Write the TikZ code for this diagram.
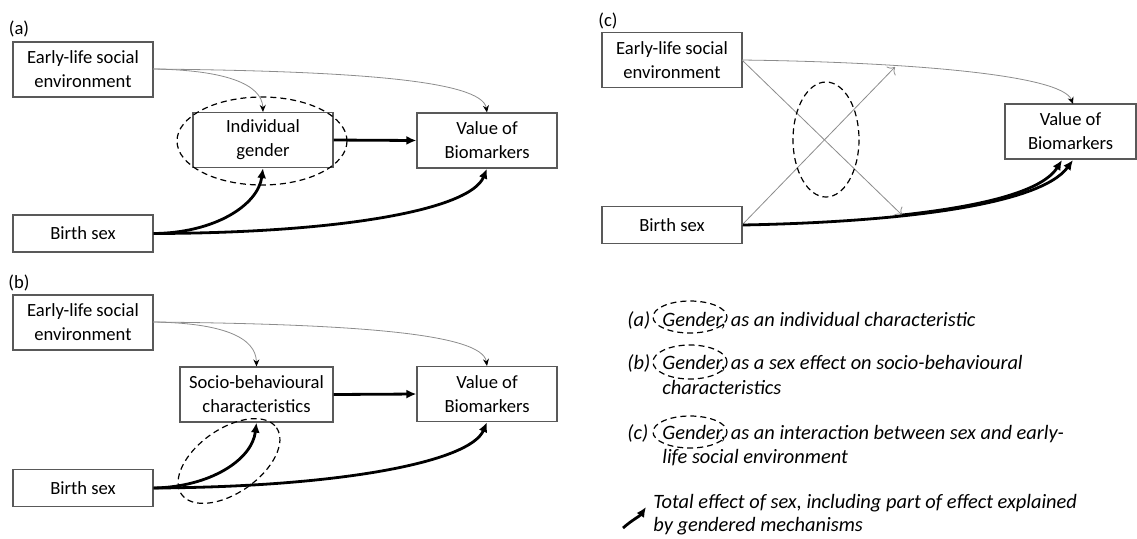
\documentclass[tikz,border=0pt]{standalone}
\usepackage{fontspec}
\setmainfont{Carlito}
\usetikzlibrary{arrows.meta}
\definecolor{boxgray}{gray}{0.35}
\definecolor{thingray}{gray}{0.55}
\newcommand{\boxfont}{\fontsize{9.3}{12}\selectfont}
\newcommand{\legfont}{\fontsize{10.2}{12.5}\selectfont\itshape}
\tikzset{
  box/.style={draw=boxgray, line width=0.6pt, fill=white, align=center, font=\boxfont, inner sep=0pt, minimum width=70pt},
  tall/.style={minimum height=27.5pt},
  short/.style={minimum height=18.5pt},
  thinarr/.style={draw=thingray, line width=0.4pt, -{Stealth[length=3.5pt,width=3pt,color=black]}},
  openarr/.style={draw=thingray, line width=0.4pt, -{To[length=3pt]}},
  thickarr/.style={draw=black, line width=1.4pt, -{Latex[length=5pt,width=4.5pt]}},
  gendash/.style={draw=black, line width=0.6pt, dash pattern=on 3pt off 2pt},
  panellabel/.style={font=\boxfont, inner sep=0pt},
  legtext/.style={font=\legfont, inner sep=0pt, anchor=base west},
}
\begin{document}
\begin{tikzpicture}[x=0.5pt,y=-0.5pt]
\useasboundingbox (0,0) rectangle (1137,538);

% ---------- panel (a) ----------
\node[panellabel] (la) at (19,29) {(a)};
\node[box,tall] (ea) at (83,69.5) {Early-life social\\environment};
\node[box,tall] (ga) at (263,140) {Individual\\gender};
\node[box,short] (ba) at (83,233.5) {Birth sex};
\node[box,tall] (va) at (487,140.5) {Value of\\Biomarkers};
\draw[gendash] (262,141) ellipse [x radius=85, y radius=44];
\draw[thinarr] (153,69) .. controls (350,71) and (482,80) .. (va.north);
\draw[thinarr] (153,69) .. controls (225,70) and (262,84) .. (ga.north);
\draw[thickarr] (ga.east) -- (va.west);
\draw[thickarr] (ba.east) .. controls (215,233) and (258,205) .. (ga.south);
\draw[thickarr] (ba.east) .. controls (340,233) and (470,210) .. (va.south);

% ---------- panel (b) ----------
\node[panellabel] (lb) at (19,283) {(b)};
\node[box,tall] (eb) at (83,322.5) {Early-life social\\environment};
\node[box,tall,minimum width=76.5pt] (sb) at (256.5,394.5) {Socio-behavioural\\characteristics};
\node[box,short] (bb) at (83,488) {Birth sex};
\node[box,tall] (vb) at (487,394) {Value of\\Biomarkers};
\draw[thinarr] (153,322) .. controls (350,324) and (482,333) .. (vb.north);
\draw[thinarr] (153,322) .. controls (222,323) and (256,337) .. (sb.north);
\draw[thickarr] (sb.east) -- (vb.west);
\draw[thickarr] (bb.east) .. controls (210,487) and (252,460) .. (sb.south);
\draw[thickarr] (bb.east) .. controls (340,487) and (470,462) .. (vb.south);
\draw[gendash, rotate around={35:(229,461)}] (229,461) ellipse [x radius=58, y radius=32];

% ---------- panel (c) ----------
\node[panellabel] (lc) at (608,21) {(c)};
\node[box,tall] (ec) at (672,60) {Early-life social\\environment};
\node[box,short] (bc) at (672,225) {Birth sex};
\node[box,tall,minimum width=65.5pt] (vc) at (1070.5,131.5) {Value of\\Biomarkers};
\coordinate (xa) at (902,215);
\coordinate (xb) at (895,67);
\draw[thinarr] (742,60) .. controls (900,62) and (1062,74) .. (1073,104);
\draw[openarr] (742,60) -- (xa);
\draw[openarr] (742,225) -- (xb);
\draw[gendash] (826,139.5) ellipse [x radius=33, y radius=57.5];
\draw[thickarr] (bc.east) .. controls (900,222) and (1040,205) .. (1073,160);
\draw[thickarr] (xa) .. controls (965,208) and (1040,195) .. (1062,160);

% ---------- legend ----------
\node[legtext] (t1a) at (627,326) {(a)};
\node[legtext] (t1) at (662,326) {Gender, as an individual characteristic};
\draw[gendash] (690,317) ellipse [x radius=37, y radius=16];

\node[legtext] (t2a) at (627,369) {(b)};
\node[legtext] (t2) at (662,369) {Gender, as a sex effect on socio-behavioural};
\node[legtext] (t2b) at (662,394) {characteristics};
\draw[gendash] (690,362) ellipse [x radius=37, y radius=17];

\node[legtext] (t3a) at (627,439) {(c)};
\node[legtext] (t3) at (662,439) {Gender, as an interaction between sex and early-};
\node[legtext] (t3b) at (662,463) {life social environment};
\draw[gendash] (690,432) ellipse [x radius=37, y radius=16];

\coordinate (k1) at (623,528);
\coordinate (k2) at (646,507);
\draw[thickarr] (k1) .. controls (632,520) and (640,516) .. (k2);
\node[legtext] (t4) at (653,508) {Total effect of sex, including part of effect explained};
\node[legtext] (t4b) at (653,531) {by gendered mechanisms};
\end{tikzpicture}
\end{document}
